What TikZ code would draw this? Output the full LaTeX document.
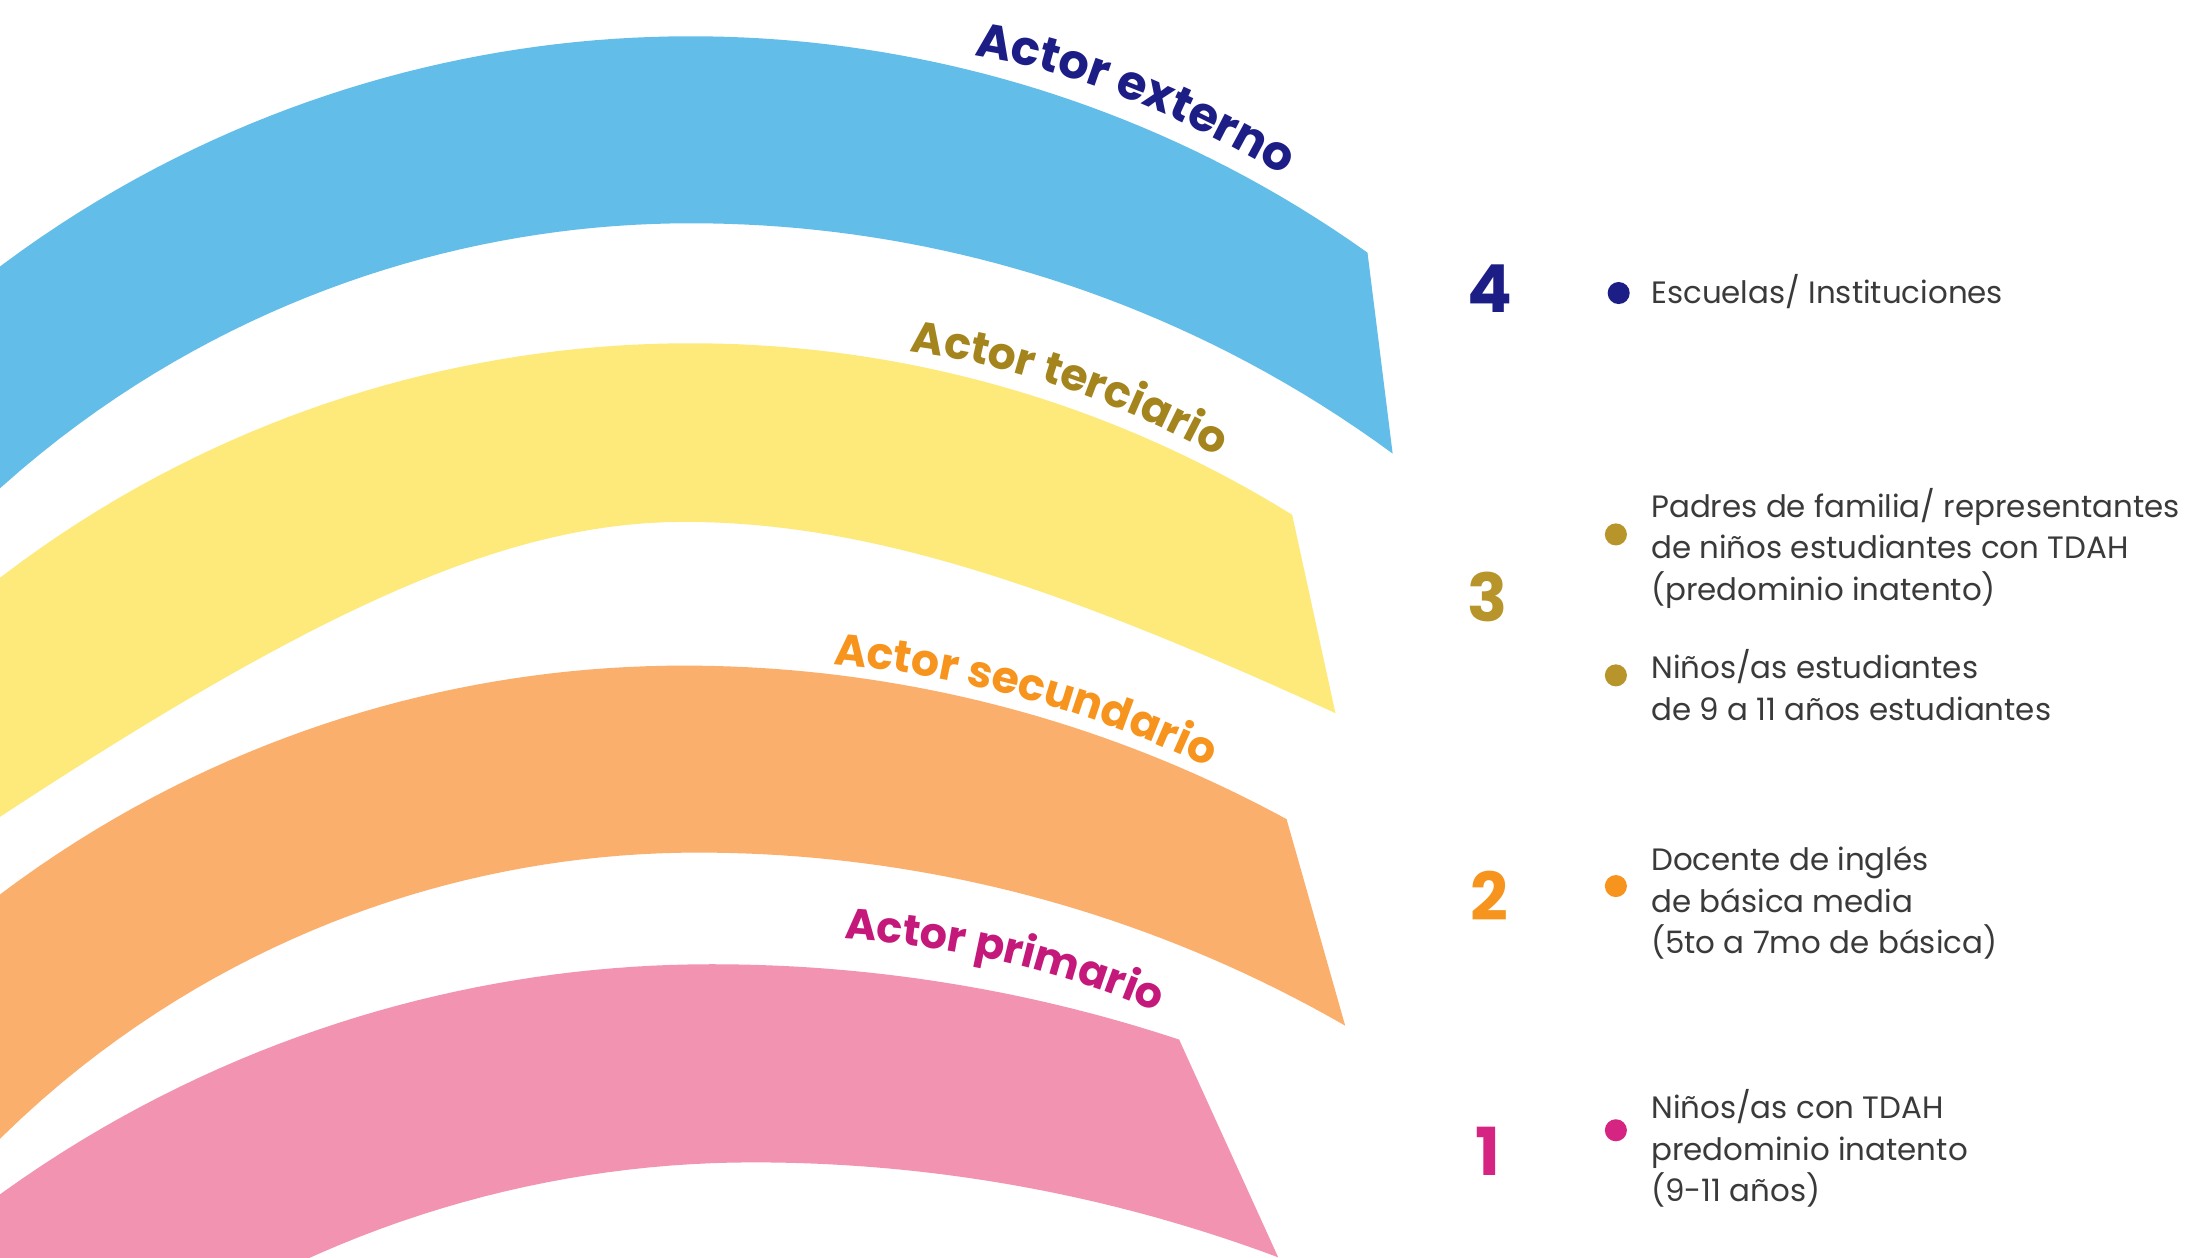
\documentclass[tikz,border=0pt]{standalone}
\usepackage{fontspec}
\setmainfont{Poppins}
\usetikzlibrary{positioning,decorations.text}

\definecolor{skyband}{HTML}{63BDE9}
\definecolor{sunband}{HTML}{FDEA7A}
\definecolor{peachband}{HTML}{FBAF6D}
\definecolor{roseband}{HTML}{F294B1}
\definecolor{navyc}{HTML}{1C1E86}
\definecolor{goldc}{HTML}{B8952B}
\definecolor{orangec}{HTML}{F7941D}
\definecolor{magentac}{HTML}{D62482}
\definecolor{labelgold}{HTML}{A4841C}
\definecolor{labelmagenta}{HTML}{C4197A}
\definecolor{itemgray}{HTML}{3A3A3A}

\newcommand\numfont{\fontsize{27}{27}\selectfont\bfseries}
\newcommand\itemfont{\fontsize{12.6}{17}\selectfont}

\begin{document}
\begin{tikzpicture}[x=0.2mm,y=-0.2mm,
    declare function={arcy(\p,\c,\h,\r)=\h+\r*(1-sqrt(1-((\p-\c)/\r)^2));
                      hypy(\p,\c,\h,\m,\k)=\h+\m*100*(sqrt(((\p-\c)/100)^2+(\k/100)^2)-\k/100);},
    band/.style={fill=#1},
    num/.style={text=#1,font=\numfont,inner sep=0pt},
    dot/.style={circle,fill=#1,inner sep=0pt,minimum size=9pt},
    item/.style={anchor=west,align=left,inner sep=0pt,text=itemgray,font=\itemfont},
    actortext/.style n args={3}{decorate,decoration={text along path,text align=left,text={|\fontsize{#3}{#3}\selectfont\bfseries\color{#1}|#2}}}]
    \useasboundingbox[fill=white] (0,0) rectangle (1568,901);

    % las cuatro bandas
    \begin{scope}[samples=40]
        \clip (0,0) rectangle (1568,901);
        \fill[band=skyband] plot[domain=-40:495] (\x,{arcy(\x,495,26,825)}) -- plot[domain=495:980] (\x,{arcy(\x,495,26,836)})
            -- plot[domain=998:495] (\x,{arcy(\x,495,160,849)}) -- plot[domain=495:-40] (\x,{arcy(\x,495,160,740)}) -- cycle;
        \fill[band=sunband] plot[domain=-40:495] (\x,{arcy(\x,495,246,813)}) -- plot[domain=495:926] (\x,{arcy(\x,495,246,817)})
            -- plot[domain=957:490] (\x,{hypy(\x,490,374,0.557,320)}) -- plot[domain=490:-40] (\x,{hypy(\x,490,374,0.77,300)}) -- cycle;
        \fill[band=peachband] plot[domain=-40:490] (\x,{arcy(\x,490,477,814)}) -- plot[domain=490:922] (\x,{arcy(\x,490,477,903)})
            -- plot[domain=964:500] (\x,{arcy(\x,500,611,930)}) -- plot[domain=500:-40] (\x,{arcy(\x,500,611,712)}) -- cycle;
        \fill[band=roseband] plot[domain=-40:510] (\x,{arcy(\x,510,691,871)}) -- plot[domain=510:845] (\x,{arcy(\x,510,691,1066)})
            -- plot[domain=916:540] (\x,{arcy(\x,540,833,1073)}) -- plot[domain=540:-40] (\x,{arcy(\x,540,833,774)}) -- cycle;
    \end{scope}

    % nombres de los actores
    \path[actortext={navyc}{Actor externo}{19.5}] (698,40) .. controls (780,52) and (880,95) .. (985,168);
    \path[actortext={labelgold}{Actor terciario}{18}] (652,252) .. controls (730,262) and (820,292) .. (910,350);
    \path[actortext={orangec}{Actor secundario}{18}] (597,476) .. controls (690,484) and (800,512) .. (900,568);
    \path[actortext={labelmagenta}{Actor primario}{17.5}] (605,673) .. controls (690,678) and (780,698) .. (870,745);

    % niveles
    \node[num=navyc] (n4) at (1068,207) {4};
    \node[num=goldc] (n3) at (1066,428) {3};
    \node[num=orangec] (n2) at (1067,642) {2};
    \node[num=magentac] (n1) at (1066,825) {1};

    \node[dot=navyc] (d4) at (1160,210) {};
    \node[dot=goldc] (d3a) at (1158,383) {};
    \node[dot=goldc] (d3b) at (1158,484) {};
    \node[dot=orangec] (d2) at (1158,635) {};
    \node[dot=magentac] (d1) at (1158,810) {};

    \node[item] (t4) at (1183,209) {Escuelas/ Instituciones};
    \node[item] (t3a) at (1183,393) {Padres de familia/ representantes\\de niños estudiantes con TDAH\\(predominio inatento)};
    \node[item] (t3b) at (1183,491) {Niños/as estudiantes\\de 9 a 11 años estudiantes};
    \node[item] (t2) at (1183,647) {Docente de inglés\\de básica media\\(5to a 7mo de básica)};
    \node[item] (t1) at (1183,823) {Niños/as con TDAH\\predominio inatento\\(9-11 años)};
\end{tikzpicture}
\end{document}
